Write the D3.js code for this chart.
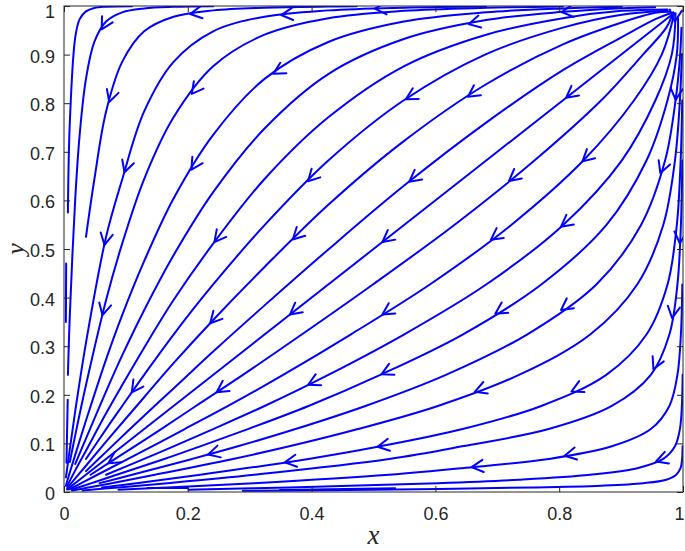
<!DOCTYPE html>
<html>
<head>
<meta charset="utf-8">
<script src="https://cdn.jsdelivr.net/npm/d3@7"></script>
<style>
  body { margin: 0; background: #fff; }
</style>
</head>
<body>
<div id="chart"></div>
<script>
// tick values
const xTicks = [0, 0.2, 0.4, 0.6, 0.8, 1];
const yTicks = [0, 0.1, 0.2, 0.3, 0.4, 0.5, 0.6, 0.7, 0.8, 0.9, 1];

// streamlines below the diagonal, each from the (1,1) side towards (0,0)
const lowerRight = [
  [[0.9993,0.094],[0.9986,0.068],[0.996,0.049],[0.989,0.0355],[0.973,0.0253],[0.936,0.0182],[0.868,0.0131],[0.76,0.0094],[0.499,0.0048],[0.289,0.0025]],
  [[0.9994,0.241],[0.9982,0.177],[0.995,0.1295],[0.987,0.094],[0.968,0.068],[0.926,0.049],[0.85,0.0355],[0.735,0.0253],[0.604,0.0182],[0.364,0.0094],[0.201,0.0048]],
  [[0.9989,0.427],[0.9966,0.324],[0.991,0.241],[0.978,0.177],[0.948,0.1295],[0.885,0.094],[0.783,0.068],[0.643,0.049],[0.525,0.0355],[0.307,0.0182],[0.167,0.0094],[0.088,0.0048]],
  [[0.9989,0.682],[0.9966,0.549],[0.991,0.427],[0.978,0.324],[0.948,0.241],[0.885,0.177],[0.783,0.1295],[0.643,0.094],[0.525,0.068],[0.307,0.0355],[0.167,0.0182],[0.088,0.0094],[0.03,0.0031]],
  [[0.9988,0.806],[0.9962,0.682],[0.99,0.549],[0.975,0.427],[0.941,0.324],[0.876,0.241],[0.771,0.177],[0.644,0.1295],[0.511,0.094],[0.395,0.068],[0.22,0.0355],[0.117,0.0182],[0.0615,0.0094]],
  [[0.9982,0.901],[0.995,0.806],[0.987,0.682],[0.968,0.549],[0.926,0.427],[0.85,0.324],[0.735,0.241],[0.604,0.177],[0.475,0.1295],[0.364,0.094],[0.273,0.068],[0.147,0.0355],[0.077,0.0182],[0.035,0.0081],[0.013,0.003]],
  [[0.9975,0.955],[0.9955,0.901],[0.988,0.806],[0.971,0.682],[0.932,0.549],[0.86,0.427],[0.748,0.324],[0.617,0.241],[0.487,0.177],[0.374,0.1295],[0.281,0.094],[0.207,0.068],[0.11,0.0355],[0.0577,0.0182]],
  [[0.992,0.975],[0.99,0.901],[0.975,0.806],[0.941,0.682],[0.876,0.549],[0.771,0.427],[0.644,0.324],[0.511,0.241],[0.395,0.177],[0.297,0.1295],[0.22,0.094],[0.162,0.068],[0.085,0.0355],[0.0445,0.0182],[0.012,0.005]],
  [[0.988,0.985],[0.982,0.901],[0.9555,0.806],[0.901,0.682],[0.806,0.549],[0.682,0.427],[0.549,0.324],[0.427,0.241],[0.324,0.177],[0.241,0.1295],[0.177,0.094],[0.1295,0.068],[0.068,0.0355]],
  [[0.986,0.985],[0.966,0.901],[0.921,0.806],[0.839,0.682],[0.722,0.549],[0.591,0.427],[0.463,0.324],[0.354,0.241],[0.265,0.177],[0.195,0.1295],[0.1035,0.068],[0.054,0.0355],[0.028,0.0182],[0.008,0.0052]],
  [[0.984,0.987],[0.973,0.9555],[0.936,0.901],[0.868,0.806],[0.76,0.682],[0.63,0.549],[0.499,0.427],[0.384,0.324],[0.289,0.241],[0.213,0.177],[0.157,0.1295],[0.0826,0.068],[0.043,0.0355]],
  // short pieces lying along the bottom edge
  [[0.535,0.0075],[0.349,0.004]],
  [[0.2,0.008],[0.135,0.008]]
];

// the one along the diagonal
const diagonal = [[0.982,0.982],[0.5,0.5],[0.005,0.005]];

// streamlines above the diagonal
const upperLeft = [
  [[0.11,0.9997],[0.068,0.9986],[0.049,0.996],[0.0355,0.989],[0.0253,0.973],[0.0182,0.936],[0.0094,0.76],[0.0063,0.575]],
  [[0.241,0.9994],[0.177,0.9982],[0.1295,0.995],[0.094,0.987],[0.068,0.968],[0.049,0.926],[0.0355,0.85],[0.0253,0.735],[0.0182,0.604],[0.0094,0.364],[0.0063,0.241]],
  [[0.473,0.9993],[0.427,0.9989],[0.324,0.9966],[0.241,0.991],[0.177,0.978],[0.1295,0.948],[0.094,0.885],[0.068,0.783],[0.049,0.643],[0.0355,0.525]],
  [[0.682,0.9989],[0.549,0.9966],[0.427,0.991],[0.324,0.978],[0.241,0.948],[0.177,0.885],[0.1295,0.783],[0.094,0.643],[0.068,0.525],[0.0355,0.307],[0.0182,0.167],[0.0094,0.088],[0.0031,0.03]],
  [[0.806,0.9988],[0.682,0.9962],[0.549,0.99],[0.427,0.975],[0.324,0.941],[0.241,0.876],[0.177,0.771],[0.1295,0.644],[0.094,0.511],[0.068,0.395],[0.0355,0.22],[0.0182,0.117],[0.0094,0.0615]],
  [[0.901,0.9982],[0.806,0.995],[0.682,0.987],[0.549,0.968],[0.427,0.926],[0.324,0.85],[0.241,0.735],[0.177,0.604],[0.1295,0.475],[0.094,0.364],[0.068,0.273],[0.0355,0.147],[0.0182,0.077],[0.0081,0.035],[0.003,0.013]],
  [[0.955,0.9975],[0.901,0.9955],[0.806,0.988],[0.682,0.971],[0.549,0.932],[0.427,0.86],[0.324,0.748],[0.241,0.617],[0.177,0.487],[0.1295,0.374],[0.094,0.281],[0.068,0.207],[0.0355,0.11],[0.0182,0.0577]],
  [[0.975,0.993],[0.901,0.99],[0.806,0.975],[0.682,0.941],[0.549,0.876],[0.427,0.771],[0.324,0.644],[0.241,0.511],[0.177,0.395],[0.1295,0.297],[0.094,0.22],[0.068,0.162],[0.0355,0.085],[0.0182,0.0445],[0.005,0.012]],
  [[0.975,0.99],[0.901,0.982],[0.806,0.9555],[0.682,0.901],[0.549,0.806],[0.427,0.682],[0.324,0.549],[0.241,0.427],[0.177,0.324],[0.1295,0.241],[0.094,0.177],[0.068,0.1295],[0.0355,0.068]],
  [[0.978,0.988],[0.9555,0.986],[0.901,0.966],[0.806,0.921],[0.682,0.839],[0.549,0.722],[0.427,0.591],[0.324,0.463],[0.241,0.354],[0.177,0.265],[0.1295,0.195],[0.068,0.1035],[0.0355,0.054],[0.0182,0.028],[0.0052,0.008]],
  [[0.98,0.985],[0.9555,0.973],[0.901,0.936],[0.806,0.868],[0.682,0.76],[0.549,0.63],[0.427,0.499],[0.324,0.384],[0.241,0.289],[0.177,0.213],[0.1295,0.157],[0.068,0.0826],[0.0355,0.043]],
  // short pieces lying along the left edge
  [[0.0035,0.47],[0.003,0.35]],
  [[0.006,0.19],[0.004,0.06]]
];

// where the arrow heads sit
const arrowsAt = [
  [0.0609,0.952],[0.2036,0.985],[0.3517,0.970],[0.5024,0.990],[0.6527,0.968],[0.804,0.986],[0.987,0.968],
  [0.0625,0.807],[0.2225,0.803],[0.3517,0.831],[0.551,0.811],[0.6527,0.813],[0.814,0.807],[0.987,0.807],
  [0.085,0.663],[0.206,0.663],[0.3785,0.659],[0.5455,0.659],[0.707,0.659],[0.8525,0.659],[0.9575,0.659],
  [0.050,0.512],[0.249,0.508],[0.3785,0.508],[0.5186,0.508],[0.696,0.508],[0.809,0.536],[0.992,0.512],
  [0.0716,0.361],[0.2278,0.357],[0.357,0.378],[0.508,0.378],[0.7016,0.357],[0.809,0.364],[0.987,0.357],
  [0.1039,0.210],[0.244,0.210],[0.400,0.206],[0.508,0.2545],[0.664,0.205],[0.820,0.206],[0.955,0.251],
  [0.0716,0.059],[0.233,0.076],[0.357,0.059],[0.508,0.083],[0.6586,0.050],[0.809,0.0726],[0.9575,0.059]
];

const width = 685, height = 551;
const margin = {top: 6, right: 2, bottom: 59, left: 64};
const innerW = width - margin.left - margin.right;
const innerH = height - margin.top - margin.bottom;
const axisColor = "#262626";
const lineColor = "#0000ff";

const svg = d3.select("#chart").append("svg")
  .attr("width", width)
  .attr("height", height)
  .attr("viewBox", `0 0 ${width} ${height}`);

const g = svg.append("g").attr("transform", `translate(${margin.left},${margin.top})`);

const x = d3.scaleLinear().domain([0, 1]).range([0, innerW]);
const y = d3.scaleLinear().domain([0, 1]).range([innerH, 0]);

g.append("clipPath").attr("id", "plot-clip")
  .append("rect").attr("width", innerW).attr("height", innerH);

const allLines = [...upperLeft, diagonal, ...lowerRight];

const line = d3.line()
  .x(d => x(d[0]))
  .y(d => y(d[1]))
  .curve(d3.curveCatmullRom.alpha(0.5));

const plot = g.append("g").attr("clip-path", "url(#plot-clip)");

plot.selectAll("path.stream")
  .data(allLines)
  .join("path")
    .attr("class", "stream")
    .attr("d", line)
    .attr("fill", "none")
    .attr("stroke", lineColor)
    .attr("stroke-width", 2)
    .attr("stroke-linecap", "round")
    .attr("stroke-linejoin", "round");

// put each arrow on the nearest streamline and point it downstream
const pxLines = allLines.map(l => l.map(d => [x(d[0]), y(d[1])]));
function snap(p) {
  let best = null;
  pxLines.forEach(l => {
    for (let i = 0; i < l.length - 1; i++) {
      const a = l[i], b = l[i + 1];
      const dx = b[0] - a[0], dy = b[1] - a[1], L2 = dx * dx + dy * dy;
      if (L2 === 0) continue;
      let t = ((p[0] - a[0]) * dx + (p[1] - a[1]) * dy) / L2;
      t = Math.max(0, Math.min(1, t));
      const q = [a[0] + t * dx, a[1] + t * dy];
      const dd = (q[0] - p[0]) ** 2 + (q[1] - p[1]) ** 2;
      if (!best || dd < best.dd) {
        const L = Math.sqrt(L2);
        best = {dd, q, ux: dx / L, uy: dy / L};
      }
    }
  });
  return best;
}

const wing = 13, spread = 28 * Math.PI / 180;
function arrowPath(d) {
  const s = snap([x(d[0]), y(d[1])]);
  const bx = -s.ux, by = -s.uy;
  const w = a => [s.q[0] + wing * (bx * Math.cos(a) - by * Math.sin(a)),
                  s.q[1] + wing * (bx * Math.sin(a) + by * Math.cos(a))];
  const w1 = w(spread), w2 = w(-spread);
  return `M${w1[0]},${w1[1]}L${s.q[0]},${s.q[1]}L${w2[0]},${w2[1]}`;
}

plot.selectAll("path.arrow")
  .data(arrowsAt)
  .join("path")
    .attr("class", "arrow")
    .attr("d", arrowPath)
    .attr("fill", "none")
    .attr("stroke", lineColor)
    .attr("stroke-width", 2)
    .attr("stroke-linecap", "round")
    .attr("stroke-linejoin", "round");

// axes, ticks pointing inwards on all four sides
const font = "'Liberation Sans', Arial, Helvetica, sans-serif";

g.append("g")
  .attr("transform", `translate(0,${innerH})`)
  .call(d3.axisBottom(x).tickValues(xTicks).tickFormat(d3.format("~g"))
    .tickSizeInner(-6).tickSizeOuter(0).tickPadding(15))
  .selectAll(".tick text")
    .attr("dx", d => d === 1 ? -4 : 0);

g.append("g")
  .call(d3.axisLeft(y).tickValues(yTicks).tickFormat(d3.format("~g"))
    .tickSizeInner(-6).tickSizeOuter(0).tickPadding(9))
  .selectAll(".tick text")
    .attr("dy", d => d === 1 ? "0.62em" : "0.42em");

g.append("g")
  .call(d3.axisTop(x).tickValues(xTicks).tickFormat("").tickSizeInner(-6).tickSizeOuter(0));
g.append("g")
  .attr("transform", `translate(${innerW},0)`)
  .call(d3.axisRight(y).tickValues(yTicks).tickFormat("").tickSizeInner(-6).tickSizeOuter(0));

g.selectAll(".domain").remove();
g.selectAll(".tick line").attr("stroke", axisColor).attr("stroke-width", 1);
g.selectAll(".tick text")
  .attr("fill", axisColor)
  .style("font-family", font)
  .style("font-size", "18px");

g.append("rect")
  .attr("width", innerW)
  .attr("height", innerH)
  .attr("fill", "none")
  .attr("stroke", axisColor)
  .attr("stroke-width", 1);

// axis labels
svg.append("text")
  .attr("x", margin.left + innerW / 2)
  .attr("y", 544)
  .attr("text-anchor", "middle")
  .style("font-family", "'Liberation Serif', 'DejaVu Serif', serif")
  .style("font-style", "italic")
  .style("font-size", "27px")
  .attr("fill", axisColor)
  .text("x");

svg.append("text")
  .attr("transform", `translate(24,${margin.top + innerH / 2}) rotate(-90)`)
  .attr("text-anchor", "middle")
  .style("font-family", "'Liberation Serif', 'DejaVu Serif', serif")
  .style("font-style", "italic")
  .style("font-size", "26px")
  .attr("fill", axisColor)
  .text("y");
</script>
</body>
</html>
